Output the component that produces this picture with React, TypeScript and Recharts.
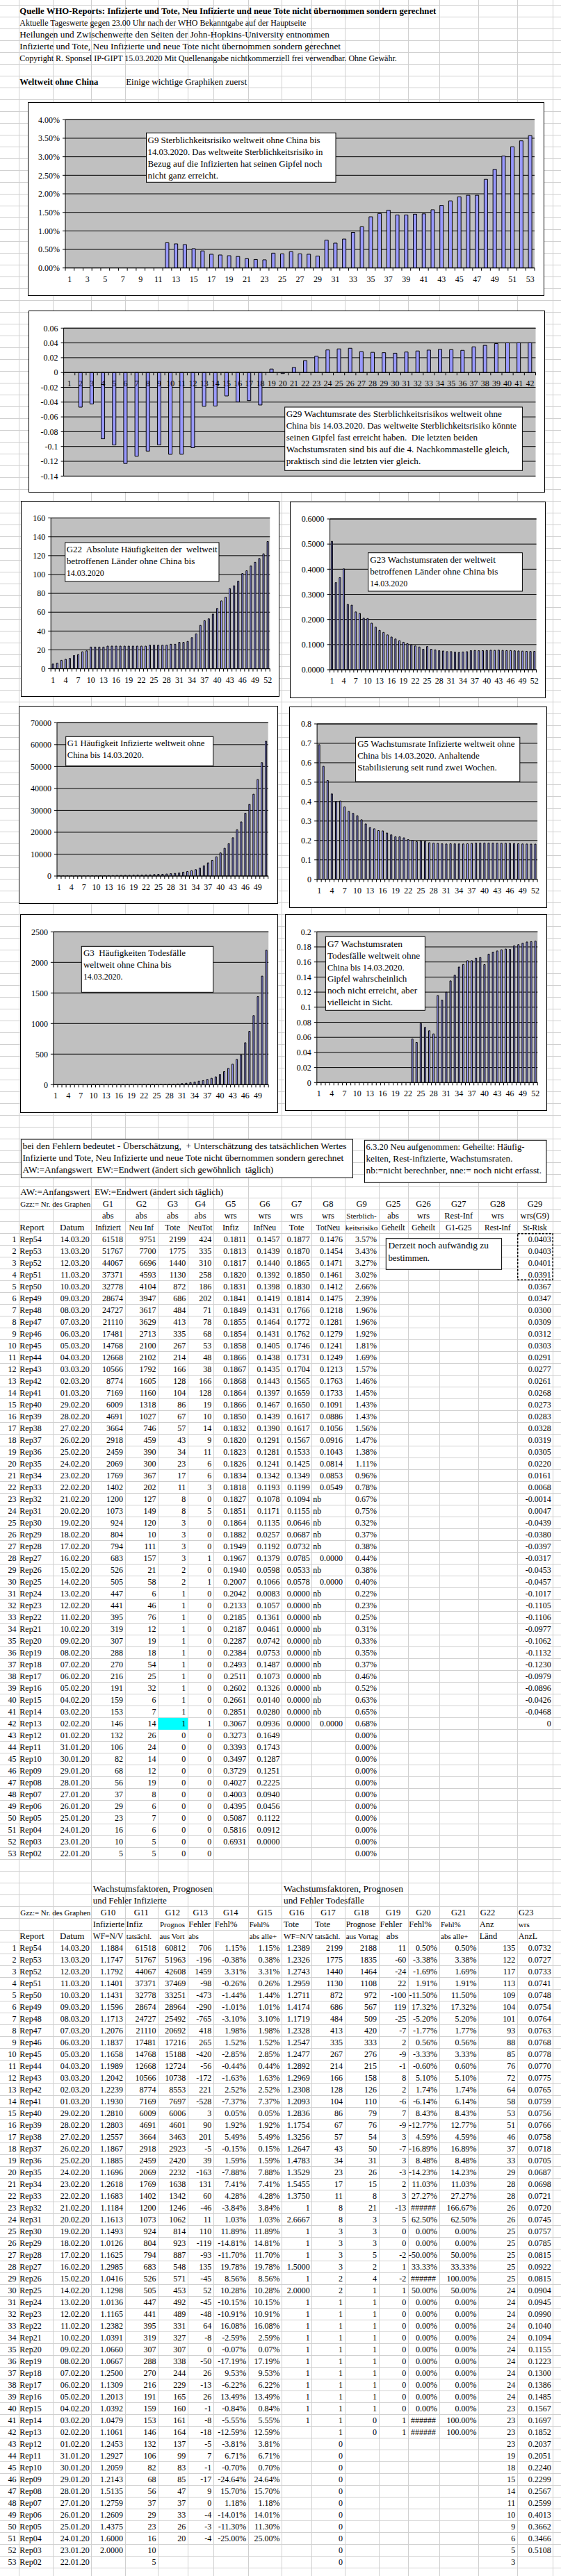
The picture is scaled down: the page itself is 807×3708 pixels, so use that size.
import React from 'react';
import { BarChart, Bar, XAxis, YAxis, CartesianGrid, ReferenceLine } from 'recharts';

const SERIF = '"Liberation Serif", "Times New Roman", Times, serif';

// ---------- Table 1 (rows 1..53, Rep54 .. Rep02) ----------
const reports = ['Rep54','Rep53','Rep52','Rep51','Rep50','Rep49','Rep48','Rep47','Rep46','Rep45','Rep44','Rep43','Rep42','Rep41','Rep40','Rep39','Rep38','Rep37','Rep36','Rep35','Rep34','Rep33','Rep32','Rep31','Rep30','Rep29','Rep28','Rep27','Rep26','Rep25','Rep24','Rep23','Rep22','Rep21','Rep20','Rep19','Rep18','Rep17','Rep16','Rep15','Rep14','Rep13','Rep12','Rep11','Rep10','Rep09','Rep08','Rep07','Rep06','Rep05','Rep04','Rep03','Rep02'];
const dates = ['14.03.20','13.03.20','12.03.20','11.03.20','10.03.20','09.03.20','08.03.20','07.03.20','06.03.20','05.03.20','04.03.20','03.03.20','02.03.20','01.03.20','29.02.20','28.02.20','27.02.20','26.02.20','25.02.20','24.02.20','23.02.20','22.02.20','21.02.20','20.02.20','19.02.20','18.02.20','17.02.20','16.02.20','15.02.20','14.02.20','13.02.20','12.02.20','11.02.20','10.02.20','09.02.20','08.02.20','07.02.20','06.02.20','05.02.20','04.02.20','03.02.20','02.02.20','01.02.20','31.01.20','30.01.20','29.01.20','28.01.20','27.01.20','26.01.20','25.01.20','24.01.20','23.01.20','22.01.20'];
const infiziert = [61518,51767,44067,37371,32778,28674,24727,21110,17481,14768,12668,10566,8774,7169,6009,4691,3664,2918,2459,2069,1769,1402,1200,1073,924,804,794,683,526,505,447,441,395,319,307,288,270,216,191,159,153,146,132,106,82,68,56,37,29,23,16,10,5];
const neuInf = [9751,7700,6696,4593,4104,3947,3617,3629,2713,2100,2102,1792,1605,1160,1318,1027,746,459,390,300,367,202,127,149,120,10,111,157,21,58,6,46,76,12,19,18,54,25,32,6,7,14,26,24,14,12,19,8,6,7,6,5,5];
const tote = [2199,1775,1440,1130,872,686,484,413,335,267,214,166,128,104,86,67,57,43,34,23,17,11,8,8,3,3,3,3,2,2,1,1,1,1,1,1,1,1,1,1,1,1,0,0,0,0,0,0,0,0,0,0,0];
const neuTot = [424,335,310,258,186,202,71,78,68,53,48,38,166,128,19,10,14,9,11,6,6,3,0,5,0,0,0,1,0,1,0,0,0,0,0,0,0,0,0,0,0,1,0,0,0,0,0,0,0,0,0,0,0];
const wrsInfiz = [0.1811,0.1813,0.1817,0.1820,0.1831,0.1841,0.1849,0.1855,0.1854,0.1858,0.1866,0.1867,0.1868,0.1864,0.1866,0.1850,0.1832,0.1820,0.1823,0.1826,0.1834,0.1818,0.1827,0.1851,0.1864,0.1882,0.1949,0.1967,0.1940,0.2007,0.2042,0.2133,0.2185,0.2187,0.2287,0.2384,0.2493,0.2511,0.2602,0.2661,0.2851,0.3067,0.3273,0.3393,0.3497,0.3729,0.4027,0.4003,0.4395,0.5087,0.5816,0.6931,null];
const wrsInfNeu = [0.1457,0.1439,0.1440,0.1392,0.1398,0.1419,0.1431,0.1464,0.1431,0.1405,0.1438,0.1435,0.1443,0.1397,0.1467,0.1439,0.1390,0.1291,0.1281,0.1241,0.1342,0.1193,0.1078,0.1171,0.1135,0.0257,0.1192,0.1379,0.0598,0.1066,0.0083,0.1057,0.1361,0.0461,0.0742,0.0753,0.1487,0.1073,0.1326,0.0140,0.0280,0.0936,0.1649,0.1743,0.1287,0.1251,0.2225,0.0940,0.0456,0.1122,0.0912,0.0000,null];
const wrsTote = [0.1877,0.1870,0.1865,0.1850,0.1830,0.1814,0.1766,0.1772,0.1762,0.1746,0.1731,0.1704,0.1565,0.1659,0.1650,0.1617,0.1617,0.1567,0.1533,0.1425,0.1349,0.1199,0.1094,0.1155,0.0646,0.0687,0.0732,0.0785,0.0533,0.0578,0,0,0,0,0,0,0,0,0,0,0,0,null,null,null,null,null,null,null,null,null,null,null];
const wrsTotNeu = [0.1476,0.1454,0.1471,0.1461,0.1412,0.1475,0.1218,0.1281,0.1279,0.1241,0.1249,0.1213,0.1763,0.1733,0.1091,0.0886,0.1056,0.0916,0.1043,0.0814,0.0853,0.0549,'nb','nb','nb','nb','nb',0,'nb',0,'nb','nb','nb','nb','nb','nb','nb','nb','nb','nb','nb',0,null,null,null,null,null,null,null,null,null,null,null];
const sterbRisk = [3.57,3.43,3.27,3.02,2.66,2.39,1.96,1.96,1.92,1.81,1.69,1.57,1.46,1.45,1.43,1.43,1.56,1.47,1.38,1.11,0.96,0.78,0.67,0.75,0.32,0.37,0.38,0.44,0.38,0.40,0.22,0.23,0.25,0.31,0.33,0.35,0.37,0.46,0.52,0.63,0.65,0.68,0,0,0,0,0,0,0,0,0,0,0];
const wrsStRisk = [0.0403,0.0403,0.0401,0.0391,0.0367,0.0347,0.0300,0.0309,0.0312,0.0303,0.0291,0.0277,0.0261,0.0268,0.0273,0.0283,0.0328,0.0319,0.0305,0.0220,0.0161,0.0068,-0.0014,0.0047,-0.0439,-0.0380,-0.0397,-0.0317,-0.0453,-0.0457,-0.1017,-0.1105,-0.1106,-0.0977,-0.1062,-0.1132,-0.1230,-0.0979,-0.0896,-0.0426,-0.0468,0,null,null,null,null,null,null,null,null,null,null,null];

// ---------- Table 2 ----------
const wfInf = [1.1884,1.1747,1.1792,1.1401,1.1431,1.1596,1.1713,1.2076,1.1837,1.1658,1.1989,1.2042,1.2239,1.1930,1.2810,1.2803,1.2557,1.1867,1.1885,1.1696,1.2618,1.1683,1.1184,1.1613,1.1493,1.0126,1.1625,1.2985,1.0416,1.1298,1.0136,1.1165,1.2382,1.0391,1.0660,1.0667,1.2500,1.1309,1.2013,1.0392,1.0479,1.1061,1.2453,1.2927,1.2059,1.2143,1.5135,1.2759,1.2609,1.4375,1.6000,2.0000,null];
const progInf = [60812,51963,42608,37469,33251,28964,25492,20692,17216,15188,12724,10738,8553,7697,6006,4601,3463,2923,2420,2232,1638,1342,1246,1062,814,923,887,548,571,453,492,489,331,327,307,338,244,229,165,160,161,164,137,99,83,85,47,37,33,26,20,null,null];
const fehlAbsInf = [706,-196,1459,-98,-473,-290,-765,418,265,-420,-56,-172,221,-528,3,90,201,-5,39,-163,131,60,-46,11,110,-119,-93,135,-45,52,-45,-48,64,-8,0,-50,26,-13,26,-1,-8,-18,-5,7,-1,-17,9,0,-4,-3,-4,null,null];
const fehlPctInf = [1.15,-0.38,3.31,-0.26,-1.44,-1.01,-3.10,1.98,1.52,-2.85,-0.44,-1.63,2.52,-7.37,0.05,1.92,5.49,-0.15,1.59,-7.88,7.41,4.28,-3.84,1.03,11.89,-14.81,-11.70,19.78,8.56,10.28,-10.15,-10.91,16.08,-2.59,-0.07,-17.19,9.53,-6.22,13.49,-0.84,-5.55,-12.59,-3.81,6.71,-0.70,-24.64,15.70,1.18,-14.01,-11.30,-25.00,null,null];
const fehlPctAbsInf = [1.15,0.38,3.31,0.26,1.44,1.01,3.10,1.98,1.52,2.85,0.44,1.63,2.52,7.37,0.05,1.92,5.49,0.15,1.59,7.88,7.41,4.28,3.84,1.03,11.89,14.81,11.70,19.78,8.56,10.28,10.15,10.91,16.08,2.59,0.07,17.19,9.53,6.22,13.49,0.84,5.55,12.59,3.81,6.71,0.70,24.64,15.70,1.18,14.01,11.30,25.00,null,null];
const wfTote = [1.2389,1.2326,1.2743,1.2959,1.2711,1.4174,1.1719,1.2328,1.2547,1.2477,1.2892,1.2969,1.2308,1.2093,1.2836,1.1754,1.3256,1.2647,1.4783,1.3529,1.5455,1.3750,1,2.6667,1,1,1,1.5000,1,2.0000,1,1,1,1,1,1,1,1,1,1,1,null,null,null,null,null,null,null,null,null,null,null,null];
const progTote = [2188,1835,1464,1108,972,567,509,420,333,276,215,158,126,110,79,76,54,50,31,26,15,8,21,3,3,3,5,2,4,1,1,1,1,1,1,1,1,1,1,1,0,0,null,null,null,null,null,null,null,null,null,null,null];
const fehlAbsTote = [11,-60,-24,22,-100,119,-25,-7,2,-9,-1,8,2,-6,7,-9,3,-7,3,-3,2,3,-13,5,0,0,-2,1,-2,1,0,0,0,0,0,0,0,0,0,0,1,1,null,null,null,null,null,null,null,null,null,null,null];
const fehlPctTote = [0.50,-3.38,-1.69,1.91,-11.50,17.32,-5.20,-1.77,0.56,-3.33,-0.60,5.10,1.74,-6.14,8.43,-12.77,4.59,-16.89,8.48,-14.23,11.03,27.27,'######',62.50,0,0,-50.00,33.33,'######',50.00,0,0,0,0,0,0,0,0,0,0,'######','######',null,null,null,null,null,null,null,null,null,null,null];
const fehlPctAbsTote = [0.50,3.38,1.69,1.91,11.50,17.32,5.20,1.77,0.56,3.33,0.60,5.10,1.74,6.14,8.43,12.77,4.59,16.89,8.48,14.23,11.03,27.27,166.67,62.50,0,0,50.00,33.33,100.00,50.00,0,0,0,0,0,0,0,0,0,0,100.00,100.00,null,null,null,null,null,null,null,null,null,null,null];
const anzLaender = [135,122,117,113,109,104,101,93,88,85,76,72,64,58,53,51,46,37,33,29,28,28,26,26,25,25,25,25,25,24,24,24,24,24,24,24,24,24,24,23,23,23,23,19,18,15,14,11,10,9,6,5,3];
const wrsAnzL = [0.0732,0.0727,0.0733,0.0741,0.0748,0.0754,0.0764,0.0763,0.0768,0.0778,0.0770,0.0775,0.0765,0.0759,0.0756,0.0766,0.0758,0.0718,0.0705,0.0687,0.0698,0.0721,0.0720,0.0745,0.0757,0.0785,0.0815,0.0922,0.0815,0.0904,0.0945,0.0990,0.1040,0.1094,0.1155,0.1223,0.1300,0.1386,0.1485,0.1567,0.1697,0.1852,0.2037,0.2051,0.2240,0.2299,0.2567,0.2599,0.4013,0.3662,0.3466,0.5108,null];

// Chart series (oldest report first, as in the graphs)
const chronological = (arr: any[], firstRow: number) => arr.slice(0, firstRow).reverse();
const g9Series = chronological(sterbRisk, 53);
const g29Series = chronological(wrsStRisk, 42);
const g22Series = chronological(anzLaender, 52);
const g23Series = chronological(wrsAnzL, 52);
const g1Series = chronological(infiziert, 51);
const g5Series = chronological(wrsInfiz, 52);
const g3Series = chronological(tote, 51);
const g7Series = chronological(wrsTote, 52);

// ---------- layout helpers ----------
const COLS = [0, 26.8, 76.2, 131.2, 179.6, 227, 269.7, 306.7, 356.7, 405, 448.3, 495.6, 544.5, 586.7, 631.5, 688, 743.7, 795.2];
const ROW0 = 7.33;
const RH = 17;
const rowTop = (k: number) => ROW0 + RH * k;
const base = (k: number) => rowTop(k) + 13;

const fInt = (v: any) => String(v);
const f4 = (v: any) => (typeof v === 'number' ? v.toFixed(4) : String(v));
const fPct = (v: any) => (typeof v === 'number' ? v.toFixed(2) + '%' : String(v));
const fWf = (v: any) => (v === 1 ? '1' : v.toFixed(4));
const fZ4 = (v: any) => (v === 0 ? '0' : v.toFixed(4));

type ColSpec = { col: number; data: any[]; fmt: (v: any) => string };

const table1Cols: ColSpec[] = [
  { col: 3, data: infiziert, fmt: fInt },
  { col: 4, data: neuInf, fmt: fInt },
  { col: 5, data: tote, fmt: fInt },
  { col: 6, data: neuTot, fmt: fInt },
  { col: 7, data: wrsInfiz, fmt: f4 },
  { col: 8, data: wrsInfNeu, fmt: f4 },
  { col: 9, data: wrsTote, fmt: f4 },
  { col: 10, data: wrsTotNeu, fmt: f4 },
  { col: 11, data: sterbRisk, fmt: fPct },
  { col: 16, data: wrsStRisk, fmt: fZ4 },
];
const table2Cols: ColSpec[] = [
  { col: 3, data: wfInf, fmt: f4 },
  { col: 4, data: infiziert, fmt: fInt },
  { col: 5, data: progInf, fmt: fInt },
  { col: 6, data: fehlAbsInf, fmt: fInt },
  { col: 7, data: fehlPctInf, fmt: fPct },
  { col: 8, data: fehlPctAbsInf, fmt: fPct },
  { col: 9, data: wfTote, fmt: fWf },
  { col: 10, data: tote, fmt: fInt },
  { col: 11, data: progTote, fmt: fInt },
  { col: 12, data: fehlAbsTote, fmt: fInt },
  { col: 13, data: fehlPctTote, fmt: fPct },
  { col: 14, data: fehlPctAbsTote, fmt: fPct },
  { col: 15, data: anzLaender, fmt: fInt },
  { col: 16, data: wrsAnzL, fmt: f4 },
];

const T = ({ x, y, s = 12, a = 'start', w, b, children }: any) => (
  <text
    x={x}
    y={y}
    fontSize={s}
    fontFamily={SERIF}
    fontWeight={b ? 'bold' : 'normal'}
    textAnchor={a}
    fill="#000"
    style={{ whiteSpace: 'pre' }}
    {...(w ? { textLength: w, lengthAdjust: 'spacingAndGlyphs' } : {})}
  >
    {children}
  </text>
);

function cell(col: number, k: number, v: any, fmt: (v: any) => string, key: string) {
  if (v === null || v === undefined) return null;
  if (v === 'nb') return <T key={key} x={COLS[col] + 2} y={base(k)}>nb</T>;
  if (v === '######')
    return <T key={key} x={(COLS[col] + COLS[col + 1]) / 2} y={base(k)} a="middle">######</T>;
  return <T key={key} x={COLS[col + 1] - 2.5} y={base(k)} a="end">{fmt(v)}</T>;
}

function dataRows(firstK: number, specs: ColSpec[], prefix: string) {
  const out: any[] = [];
  for (let i = 0; i < 53; i++) {
    const k = firstK + i;
    out.push(<T key={`${prefix}n${i}`} x={23.5} y={base(k)} a="end">{String(i + 1)}</T>);
    out.push(<T key={`${prefix}r${i}`} x={28.3} y={base(k)}>{reports[i]}</T>);
    out.push(<T key={`${prefix}d${i}`} x={COLS[3] - 2.5} y={base(k)} a="end">{dates[i]}</T>);
    specs.forEach((s) => {
      const c = cell(s.col, k, s.data[i], s.fmt, `${prefix}c${s.col}_${i}`);
      if (c) out.push(c);
    });
  }
  return out;
}

const mid = (c: number) => (COLS[c] + COLS[c + 1]) / 2;

// ---------- charts ----------
type Cfg = {
  box: number[];
  plot: number[];
  values: (number | null)[];
  domain: [number, number];
  ticks: number[];
  fmt: (v: number) => string;
  step: number;
  zeroAxis?: boolean;
  gap: string;
};

const pctFmt = (v: number) => v.toFixed(2) + '%';
const trimFmt = (d: number) => (v: number) => String(Number(v.toFixed(d)));

const charts: Cfg[] = [
  { box: [40, 147, 743, 279], plot: [94, 172.3, 675, 213.4], values: g9Series, domain: [0, 4], ticks: [0, 0.5, 1, 1.5, 2, 2.5, 3, 3.5, 4], fmt: pctFmt, step: 2, gap: '30%' },
  { box: [41, 447, 743, 262], plot: [91.6, 472.3, 678.9, 213], values: g29Series, domain: [-0.14, 0.06], ticks: [-0.14, -0.12, -0.1, -0.08, -0.06, -0.04, -0.02, 0, 0.02, 0.04, 0.06], fmt: trimFmt(2), step: 1, zeroAxis: true, gap: '34%' },
  { box: [30.4, 720.7, 372.1, 282.3], plot: [73.6, 745.3, 315, 217], values: g22Series, domain: [0, 160], ticks: [0, 20, 40, 60, 80, 100, 120, 140, 160], fmt: (v) => String(v), step: 3, gap: '33%' },
  { box: [416.9, 722.3, 368.5, 282.7], plot: [474.5, 747.3, 297, 217], values: g23Series, domain: [0, 0.6], ticks: [0, 0.1, 0.2, 0.3, 0.4, 0.5, 0.6], fmt: (v) => v.toFixed(4), step: 3, gap: '33%' },
  { box: [27.3, 1015.7, 373.1, 285.3], plot: [82.3, 1040, 303.7, 220.7], values: g1Series, domain: [0, 70000], ticks: [0, 10000, 20000, 30000, 40000, 50000, 60000, 70000], fmt: (v) => String(v), step: 3, gap: '33%' },
  { box: [415.9, 1017.3, 371.5, 290], plot: [456, 1042.3, 317, 223.7], values: g5Series, domain: [0, 0.8], ticks: [0, 0.1, 0.2, 0.3, 0.4, 0.5, 0.6, 0.7, 0.8], fmt: trimFmt(1), step: 3, gap: '33%' },
  { box: [29.3, 1316, 371.1, 286.3], plot: [77.2, 1341.3, 309.3, 220], values: g3Series, domain: [0, 2500], ticks: [0, 500, 1000, 1500, 2000, 2500], fmt: (v) => String(v), step: 3, gap: '33%' },
  { box: [410.2, 1316, 377.2, 283.3], plot: [456, 1341.3, 317.5, 217], values: g7Series, domain: [0, 0.2], ticks: [0, 0.02, 0.04, 0.06, 0.08, 0.1, 0.12, 0.14, 0.16, 0.18, 0.2], fmt: trimFmt(2), step: 3, gap: '33%' },
];

function ExcelBarChart({ cfg }: { cfg: Cfg }) {
  const [bx, by, bw, bh] = cfg.box;
  const [px, py, pw, ph] = cfg.plot;
  const data = cfg.values.map((v, i) => ({ n: String(i + 1), v }));
  const n = data.length;
  const band = pw / n;
  const shift = cfg.zeroAxis ? (ph * (0 - cfg.domain[0])) / (cfg.domain[1] - cfg.domain[0]) : 0;
  const tick = (p: any) => {
    const i = p.index ?? p.payload?.index ?? 0;
    const ay = p.y - shift;
    const hx = band / 2;
    return (
      <g>
        <line x1={p.x - hx} x2={p.x - hx} y1={ay} y2={ay + 4} stroke="#000" strokeWidth={1} />
        {i === n - 1 && <line x1={p.x + hx} x2={p.x + hx} y1={ay} y2={ay + 4} stroke="#000" strokeWidth={1} />}
        {i % cfg.step === 0 && (
          <text x={p.x} y={ay + 20} textAnchor="middle" fontSize={12} fontFamily={SERIF} fill="#000">
            {p.payload.value}
          </text>
        )}
      </g>
    );
  };
  return (
    <div style={{ position: 'absolute', left: bx, top: by, width: bw, height: bh }}>
      <div style={{ position: 'absolute', inset: 0, background: '#fff', border: '1px solid #000', boxSizing: 'border-box' }} />
      <div style={{ position: 'absolute', left: 0, top: 0 }}>
        <BarChart
          width={bw}
          height={bh}
          data={data}
          margin={{ top: py - by, right: bx + bw - px - pw, bottom: 0, left: 0 }}
          barCategoryGap={cfg.gap}
        >
          <CartesianGrid vertical={false} stroke="#000" fill="#C0C0C0" fillOpacity={1} />
          <XAxis
            dataKey="n"
            height={by + bh - py - ph}
            interval={0}
            tickLine={false}
            tickSize={0}
            tickMargin={0}
            axisLine={cfg.zeroAxis ? false : { stroke: '#000' }}
            tick={tick}
          />
          <YAxis
            type="number"
            width={px - bx}
            domain={cfg.domain}
            ticks={cfg.ticks}
            interval={0}
            allowDataOverflow
            tickFormatter={cfg.fmt}
            tickSize={4}
            tickMargin={4}
            axisLine={{ stroke: '#000' }}
            tickLine={{ stroke: '#000' }}
            tick={{ fill: '#000', fontSize: 12, fontFamily: SERIF }}
          />
          <ReferenceLine y={cfg.domain[1]} stroke="#000" />
          {cfg.zeroAxis && <ReferenceLine y={0} stroke="#000" />}
          <Bar dataKey="v" fill="#9999FF" stroke="#000" strokeWidth={1} isAnimationActive={false} />
        </BarChart>
      </div>
    </div>
  );
}

// ---------- annotation boxes ----------
type Note = { box: number[]; tx: number; s: number; step: number; first: number; lines: [string, number][] };
const notes: Note[] = [
  { box: [210.5, 191.3, 272.5, 71], tx: 212.6, s: 13, step: 17, first: 14.2, lines: [['G9 Sterblichkeitsrisiko weltweit ohne China bis', 248], ['14.03.2020. Das weltweite Sterblichkeitsrisiko in', 251.7], ['Bezug auf die Infizierten hat seinen Gipfel noch', 250.6], ['nicht ganz erreicht.', 101.4]] },
  { box: [409.7, 586, 341.7, 91.3], tx: 411.7, s: 13, step: 16.9, first: 14.4, lines: [['G29 Wachtumsrate des Sterblichkeitsrisikos weltweit ohne', 310.3], ['China bis 14.03.2020. Das weltweite Sterblichkeitsrisiko könnte', 331.4], ['seinen Gipfel fast erreicht haben.  Die letzten beiden', 275.4], ['Wachstumsraten sind bis auf die 4. Nachkommastelle gleich,', 321.2], ['praktisch sind die letzten vier gleich.', 193.5]] },
  { box: [93.7, 781, 221.3, 56], tx: 95.7, s: 13, step: 17, first: 14.2, lines: [['G22  Absolute Häufigkeiten der  weltweit', 217], ['betroffenen Länder ohne China bis', 184.7], ['14.03.2020', 54]] },
  { box: [529.6, 795.7, 221.8, 55.3], tx: 532.2, s: 13, step: 17, first: 13.9, lines: [['G23 Wachstumsraten der weltweit', 180.6], ['betroffenen Länder ohne China bis', 184.2], ['14.03.2020', 54]] },
  { box: [94.7, 1060.3, 212, 42], tx: 96.8, s: 13, step: 16.7, first: 14.1, lines: [['G1 Häufigkeit Infizierte weltweit ohne', 197.6], ['China bis 14.03.2020.', 110]] },
  { box: [511.6, 1061.3, 236.2, 63.7], tx: 514.2, s: 13, step: 17, first: 13.9, lines: [['G5 Wachstumsrate Infizierte weltweit ohne', 226.4], ['China bis 14.03.2020. Anhaltende', 175.5], ['Stabilisierung seit rund zwei Wochen.', 200.7]] },
  { box: [117.3, 1362.3, 189.4, 66], tx: 119.9, s: 13, step: 16.8, first: 14.1, lines: [['G3  Häufigkeiten Todesfälle', 147.2], ['weltweit ohne China bis', 126.6], ['14.03.2020.', 56.6]] },
  { box: [468.4, 1348.3, 143, 106], tx: 470.9, s: 13, step: 16.9, first: 14.4, lines: [['G7 Wachstumsraten', 108], ['Todesfälle weltweit ohne', 133.3], ['China bis 14.03.2020.', 110.7], ['Gipfel wahrscheinlich', 114.3], ['noch nicht erreicht, aber', 129.2], ['vielleicht in Sicht.', 94.2]] },
];
const sheetBoxes: Note[] = [
  { box: [30.4, 1640, 477.1, 55.3], tx: 32.4, s: 12.5, step: 17, first: 14, lines: [['bei den Fehlern bedeutet - Überschätzung,  + Unterschätzung des tatsächlichen Wertes', 466], ['Infizierte und Tote, Neu Infizierte und neue Tote nicht übernommen sondern gerechnet', 461.7], ['AW:=Anfangswert  EW:=Endwert (ändert sich gewöhnlich  täglich)', 360.8]] },
  { box: [524.5, 1641.3, 261.5, 61], tx: 526.5, s: 12.5, step: 17, first: 13.7, lines: [['6.3.20 Neu aufgenommen: Geheilte: Häufig-', 228], ['keiten, Rest-infizierte, Wachstumsraten.', 211], ['nb:=nicht berechnber, nne:= noch nicht erfasst.', 252.7]] },
  { box: [555.3, 1782.7, 166.3, 44.6], tx: 558.4, s: 12.5, step: 18.2, first: 13.8, lines: [['Derzeit noch aufwändig zu', 144.6], ['bestimmen.', 59.7]] },
];

function NoteBox({ n }: { n: Note }) {
  const [x, y, w, h] = n.box;
  return (
    <g>
      <rect x={x} y={y} width={w} height={h} fill="#fff" stroke="#000" strokeWidth={1} />
      {n.lines.map(([t, len], i) => (
        <T key={i} x={n.tx} y={y + n.first + i * n.step} s={n.s} w={len}>{t}</T>
      ))}
    </g>
  );
}

// ---------- header texts ----------
const t1G = ['G1', 'G2', 'G3', 'G4', 'G5', 'G6', 'G7', 'G8', 'G9', 'G25', 'G26', 'G27', 'G28', 'G29'];
const t1Kind = ['abs', 'abs', 'abs', 'abs', 'wrs', 'wrs', 'wrs', 'wrs', 'Sterblich-', 'abs', 'wrs', 'Rest-Inf', 'wrs', 'wrs(G9)'];
const t1Name = ['Infiziert', 'Neu Inf', 'Tote', 'NeuTot', 'Infiz', 'InfNeu', 'Tote', 'TotNeu', 'keitsrisiko', 'Geheilt', 'Geheilt', 'G1-G25', 'Rest-Inf', 'St-Risk'];
const t2G = ['G10', 'G11', 'G12', 'G13', 'G14', 'G15', 'G16', 'G17', 'G18', 'G19', 'G20', 'G21'];
const t2Row1: [string, number, number][] = [['Infizierte', 133.8, 12.3], ['Infiz', 181.6, 12.5], ['Prognos', 230, 11], ['Fehler', 271.2, 12.5], ['Fehl%', 308.8, 12.5], ['Fehl%', 358.7, 11], ['Tote', 408, 12.5], ['Tote', 453, 12.5], ['Prognose', 497.7, 11.5], ['Fehler', 546.6, 12.5], ['Fehl%', 588.3, 12.5], ['Fehl%', 634, 11], ['Anz', 689.7, 12.5], ['wrs', 745.8, 11]];
const t2Row2: [string, number, number][] = [['WF=N/V', 133.8, 11.5], ['tatsächl.', 181.7, 11], ['aus Vort', 229.5, 11], ['abs', 271.2, 11], ['abs alle+', 358.7, 11], ['WF=N/V', 408, 11.3], ['tatsächl.', 453, 11], ['aus Vortag', 497.7, 11], ['abs', 555.8, 13], ['abs alle+', 634, 11], ['Länd', 689.7, 12.5], ['AnzL', 745.8, 12]];

function Sheet() {
  const hLines: any[] = [];
  for (let k = 0; k <= 217; k++) {
    const y = Math.round(rowTop(k)) + 0.5;
    hLines.push(<line key={'h' + k} x1={0} x2={807} y1={y} y2={y} stroke="#d0d0d0" strokeWidth={1} />);
  }
  const vLines = COLS.slice(1).map((c, i) => {
    const x = Math.round(c) + 0.5;
    return <line key={'v' + i} x1={x} x2={x} y1={0} y2={3708} stroke="#d0d0d0" strokeWidth={1} />;
  });
  return (
    <svg width={807} height={3708} style={{ position: 'absolute', left: 0, top: 0 }}>
      <rect x={0} y={0} width={807} height={3708} fill="#fff" />
      {hLines}
      {vLines}
      {/* cyan cell */}
      <rect x={COLS[5] + 0.5} y={rowTop(104 + 41) + 0.5} width={COLS[6] - COLS[5]} height={RH} fill="#00FFFF" />
      {/* top texts */}
      <T x={28.3} y={base(0)} s={12.5} b w={599}>Quelle WHO-Reports: Infizierte und Tote, Neu Infizierte und neue Tote nicht übernommen sondern gerechnet</T>
      <T x={28.3} y={base(1)} w={412}>Aktuelle Tageswerte gegen 23.00 Uhr nach der WHO Bekanntgabe auf der Hauptseite</T>
      <T x={28.3} y={base(2)} w={445.7}>Heilungen und Zwischenwerte den Seiten der John-Hopkins-University entnommen</T>
      <T x={28.3} y={base(3)} w={461.7}>Infizierte und Tote, Neu Infizierte und neue Tote nicht übernommen sondern gerechnet</T>
      <T x={28.3} y={base(4)} w={542.5}>Copyright R. Sponsel IP-GIPT 15.03.2020 Mit Quellenangabe nichtkommerziell frei verwendbar. Ohne Gewähr.</T>
      <T x={28.3} y={base(6)} s={12.5} b w={113}>Weltweit ohne China</T>
      <T x={181.2} y={base(6)} w={174}>Einige wichtige Graphiken zuerst</T>

      {sheetBoxes.map((n, i) => <NoteBox key={'sb' + i} n={n} />)}

      {/* table 1 headers */}
      <T x={29.3} y={base(100)} s={13} w={292}>AW:=Anfangswert  EW:=Endwert (ändert sich täglich)</T>
      <T x={29.3} y={base(101)} s={11} w={101}>Gzz:= Nr. des Graphen</T>
      {t1G.map((g, i) => <T key={'t1g' + i} x={mid(i + 3)} y={base(101)} s={12.5} a="middle">{g}</T>)}
      {t1Kind.map((g, i) => <T key={'t1k' + i} x={mid(i + 3)} y={base(102)} s={g === 'Sterblich-' ? 11 : 12.5} a="middle">{g}</T>)}
      <T x={28.3} y={base(103)} s={13}>Report</T>
      <T x={mid(2)} y={base(103)} s={13} a="middle">Datum</T>
      {t1Name.map((g, i) => <T key={'t1n' + i} x={mid(i + 3)} y={base(103)} s={g === 'keitsrisiko' ? 11.2 : g.length > 5 ? 11.5 : 12.5} a="middle">{g}</T>)}
      {dataRows(104, table1Cols, 'a')}
      {/* dashed selection */}
      <rect x={744.7} y={rowTop(104) + 0.5} width={50.5} height={RH * 4 - 1.5} fill="none" stroke="#000" strokeWidth={1.5} strokeDasharray="3 2" />

      {/* table 2 headers */}
      <T x={133.8} y={base(159)} s={13} w={172}>Wachstumsfaktoren, Prognosen</T>
      <T x={133.8} y={base(160)} s={13} w={106}>und Fehler Infizierte</T>
      <T x={408} y={base(159)} s={13} w={172}>Wachstumsfaktoren, Prognosen</T>
      <T x={408} y={base(160)} s={13} w={116}>und Fehler Todesfälle</T>
      <T x={29.3} y={base(161)} s={11} w={101}>Gzz:= Nr. des Graphen</T>
      {t2G.map((g, i) => <T key={'t2g' + i} x={mid(i + 3)} y={base(161)} s={12.5} a="middle">{g}</T>)}
      <T x={690.7} y={base(161)} s={12.5}>G22</T>
      <T x={746} y={base(161)} s={12.5}>G23</T>
      {t2Row1.map(([t, x, s], i) => <T key={'t2a' + i} x={x} y={base(162)} s={s}>{t}</T>)}
      <T x={28.3} y={base(163)} s={13}>Report</T>
      <T x={mid(2)} y={base(163)} s={13} a="middle">Datum</T>
      {t2Row2.map(([t, x, s], i) => <T key={'t2b' + i} x={x} y={base(163)} s={s}>{t}</T>)}
      {dataRows(164, table2Cols, 'b')}
    </svg>
  );
}

export default function App() {
  return (
    <div style={{ position: 'absolute', left: 0, top: 0, width: 807, height: 3708, overflow: 'hidden', background: '#fff' }}>
      <Sheet />
      {charts.map((c, i) => (
        <ExcelBarChart key={i} cfg={c} />
      ))}
      <svg width={807} height={3708} style={{ position: 'absolute', left: 0, top: 0, pointerEvents: 'none' }}>
        {notes.map((n, i) => <NoteBox key={i} n={n} />)}
      </svg>
    </div>
  );
}
